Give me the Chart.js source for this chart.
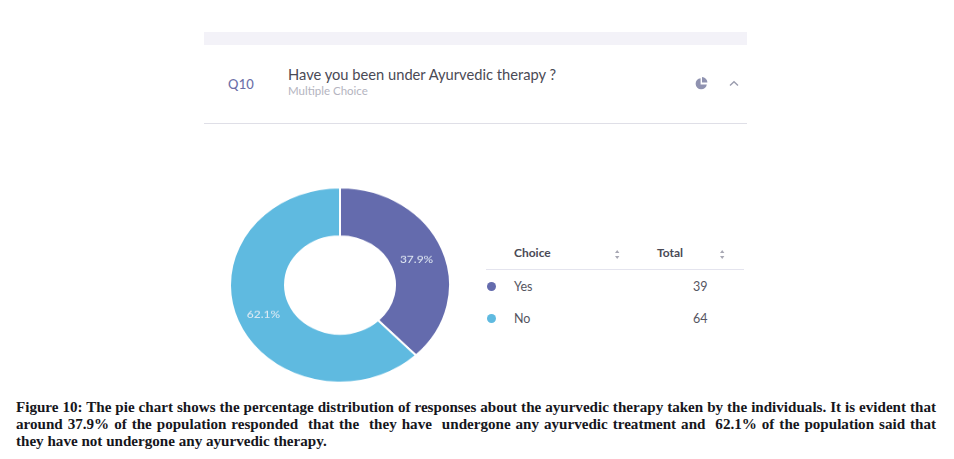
<!DOCTYPE html>
<html>
<head>
<meta charset="utf-8">
<script src="https://cdn.jsdelivr.net/npm/chart.js@4"></script>
<style>
html,body{margin:0;padding:0;background:#fff;width:954px;height:459px;overflow:hidden}
body{position:relative;font-family:Lato,sans-serif}
.a{position:absolute;white-space:nowrap;line-height:1}
#band{left:204px;top:32px;width:543px;height:13px;background:#f3f2f8}
#rule{left:204px;top:123px;width:543px;height:1px;background:#dfdfe7}
#q{left:228px;top:78px;font-size:13px;font-weight:500;color:#6c70a8;letter-spacing:.2px}
#title{left:288px;top:67px;font-size:14.7px;color:#4a4a55}
#sub{left:288px;top:85px;font-size:11.5px;color:#b4b4c0}
#hrule{left:486px;top:269px;width:258px;height:1px;background:#e4e4ee}
.h{top:247px;font-size:12px;font-weight:700;color:#4a4a55}
.c{font-size:12.5px;color:#55555f}
.dot{width:9px;height:9px;border-radius:50%}
#wrap{position:absolute;left:228px;top:173px;width:224px;height:224px;transform:scaleY(.886);transform-origin:center}
.cap{left:16px;width:920px;font:bold 15.1px "Liberation Serif",serif;color:#16161c;white-space:normal;text-align:justify;text-align-last:justify}
svg{position:absolute;overflow:visible}
</style>
</head>
<body>
<div class="a" id="band"></div>
<div class="a" id="q">Q10</div>
<div class="a" id="title">Have you been under Ayurvedic therapy ?</div>
<div class="a" id="sub">Multiple Choice</div>
<svg style="left:695px;top:77px" width="13" height="13"><path d="M5.6 1.2A5.6 5.6 0 1 0 11.8 7.4H5.6Z" fill="#8f92b0"/><path d="M7 0A5.6 5.6 0 0 1 12.4 5.6H7Z" fill="#8f92b0"/></svg>
<svg style="left:729px;top:80px" width="11" height="7"><path d="M1 5.5L5 1.8L9 5.5" fill="none" stroke="#9a9cae" stroke-width="1.4"/></svg>
<div class="a" id="rule"></div>
<div id="wrap"><canvas id="c" width="224" height="224"></canvas></div>
<div class="a h" style="left:514px">Choice</div>
<div class="a h" style="left:657px">Total</div>
<svg style="left:615px;top:250px" width="5" height="9"><path d="M0 3L2.2 0L4.4 3ZM0 6L2.2 9L4.4 6Z" fill="#a8a8b4"/></svg>
<svg style="left:720px;top:250px" width="5" height="9"><path d="M0 3L2.2 0L4.4 3ZM0 6L2.2 9L4.4 6Z" fill="#a8a8b4"/></svg>
<div class="a" id="hrule"></div>
<div id="rows"></div>
<div class="a cap" style="top:399px">Figure 10: The pie chart shows the percentage distribution of responses about the ayurvedic therapy taken by the individuals. It is evident that</div>
<div class="a cap" style="top:416px">around 37.9% of the population responded&nbsp; that the&nbsp; they have&nbsp; undergone any ayurvedic treatment and&nbsp; 62.1% of the population said that</div>
<div class="a cap" style="top:433px;text-align-last:left">they have not undergone any ayurvedic therapy.</div>
<script>
const categories = ["Yes", "No"];
const totals = [39, 64];
const sliceColors = ["#646bad", "#5fbae0"];

const rowsEl = document.getElementById("rows");
const rowTops = [281, 313];
categories.forEach((name, i) => {
  rowsEl.insertAdjacentHTML("beforeend",
    `<div class="a dot" style="left:487px;top:${rowTops[i] + 1}px;background:${sliceColors[i]}"></div>` +
    `<div class="a c" style="left:514px;top:${rowTops[i]}px">${name}</div>` +
    `<div class="a c" style="left:693px;top:${rowTops[i]}px">${totals[i]}</div>`);
});

const sum = totals.reduce((a, b) => a + b, 0);
const percentLabels = {
  id: "percentLabels",
  afterDatasetsDraw(chart) {
    const ctx = chart.ctx;
    ctx.save();
    ctx.font = '12px Lato, sans-serif';
    ctx.fillStyle = "#e6eef6";
    ctx.textAlign = "center";
    ctx.textBaseline = "middle";
    chart.getDatasetMeta(0).data.forEach((arc, i) => {
      const p = arc.tooltipPosition();
      ctx.fillText((totals[i] / sum * 100).toFixed(1) + "%", p.x, p.y + 2);
    });
    ctx.restore();
  }
};

new Chart(document.getElementById("c"), {
  type: "doughnut",
  data: {
    labels: categories,
    datasets: [{
      data: totals,
      backgroundColor: sliceColors,
      borderColor: "#ffffff",
      borderWidth: 2
    }]
  },
  options: {
    responsive: false,
    animation: false,
    radius: 110,
    cutout: "50%",
    plugins: { legend: { display: false }, tooltip: { enabled: false } }
  },
  plugins: [percentLabels]
});
</script>
</body>
</html>
